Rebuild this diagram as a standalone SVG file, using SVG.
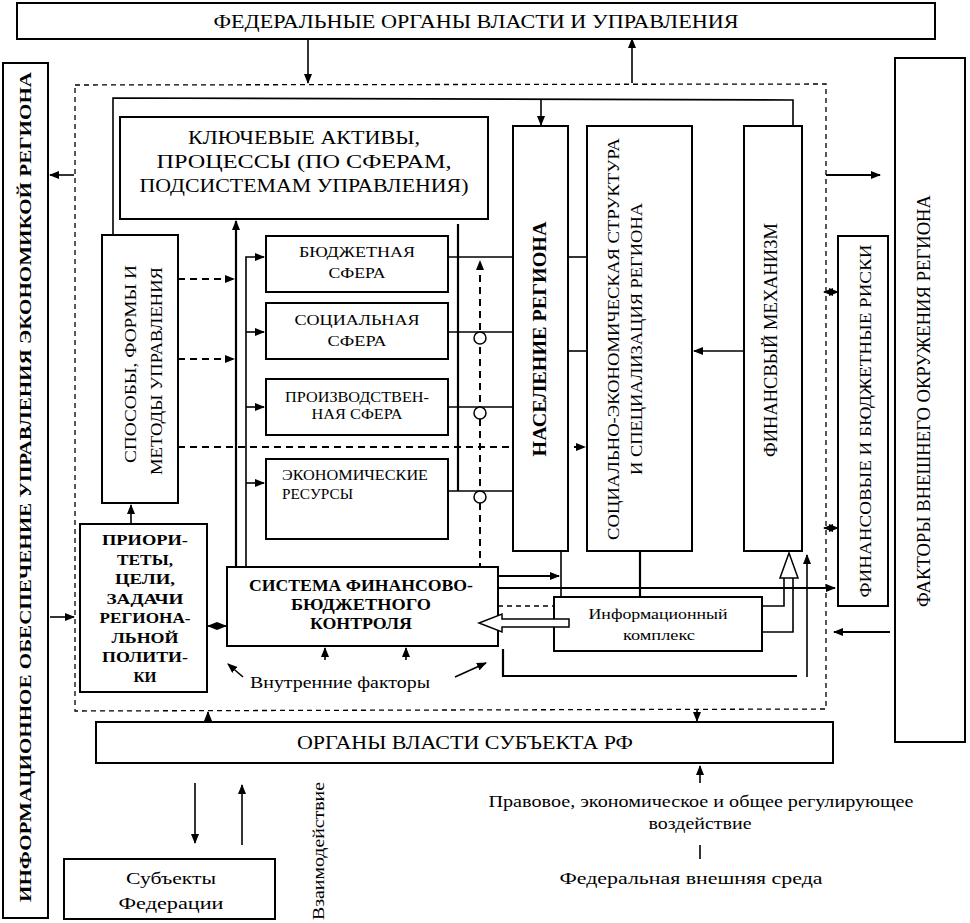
<svg xmlns="http://www.w3.org/2000/svg" width="970" height="923" viewBox="0 0 970 923" font-family="Liberation Serif, DejaVu Serif, serif">
<defs>
<style>
text{font-family:'Liberation Serif','DejaVu Serif',serif;fill:#000}
.b{font-weight:bold}
.bx{fill:#fff;stroke:#000;stroke-width:2}
.ln{fill:none;stroke:#000;stroke-width:1.6}
.th{fill:none;stroke:#000;stroke-width:2.2}
.ds{fill:none;stroke:#000;stroke-width:1.3;stroke-dasharray:5,4}
.dd{fill:none;stroke:#000;stroke-width:2;stroke-dasharray:7,5}
.ha{fill:#fff;stroke:#000;stroke-width:1.5}
</style>
<marker id="ar" markerWidth="10" markerHeight="8" refX="9" refY="4" orient="auto" markerUnits="userSpaceOnUse"><path d="M0,0 L10,4 L0,8 Z" fill="#000"/></marker>
<marker id="as" markerWidth="10" markerHeight="8" refX="1" refY="4" orient="auto" markerUnits="userSpaceOnUse"><path d="M10,0 L0,4 L10,8 Z" fill="#000"/></marker>
</defs>
<rect width="970" height="923" fill="#fff"/>

<g id="connectors">
<path class="ds" d="M75,85 L826,84 L826,709 L75,711 Z"/>
<line class="ln" x1="308" y1="38" x2="308" y2="83" marker-end="url(#ar)"/>
<line class="ln" x1="632" y1="83" x2="632" y2="39" marker-end="url(#ar)"/>
<line class="ln" x1="74" y1="175" x2="50" y2="175" marker-end="url(#ar)"/>
<line class="ln" x1="50" y1="617" x2="74" y2="617" marker-end="url(#ar)"/>
<line class="th" x1="826" y1="175" x2="880" y2="175" marker-end="url(#ar)"/>
<line class="th" x1="890" y1="632" x2="834" y2="632" marker-end="url(#ar)"/>
<line class="ln" x1="824" y1="292" x2="838" y2="292" marker-start="url(#as)" marker-end="url(#ar)"/>
<line class="ln" x1="824" y1="528" x2="838" y2="528" marker-start="url(#as)" marker-end="url(#ar)"/>
<polyline class="ln" points="113,235 113,98 793,100 793,126"/>
<line class="ln" x1="541" y1="99" x2="541" y2="125" marker-end="url(#ar)"/>
<line class="th" x1="236" y1="567" x2="236" y2="221" marker-end="url(#ar)"/>
<polyline class="ln" points="246,567 246,257 264,257" marker-end="url(#ar)"/>
<line class="ln" x1="246" y1="332" x2="264" y2="332" marker-end="url(#ar)"/>
<line class="ln" x1="246" y1="407" x2="264" y2="407" marker-end="url(#ar)"/>
<line class="ln" x1="246" y1="483" x2="264" y2="483" marker-end="url(#ar)"/>
<line class="dd" x1="178" y1="279" x2="234" y2="279" marker-end="url(#ar)"/>
<line class="dd" x1="178" y1="359" x2="234" y2="359" marker-end="url(#ar)"/>
<line class="dd" x1="178" y1="447" x2="585" y2="447" marker-end="url(#ar)"/>
<line class="th" x1="458" y1="224" x2="458" y2="491"/>
<line class="ln" x1="448" y1="257" x2="513" y2="257"/>
<line class="ln" x1="448" y1="332" x2="513" y2="332"/>
<line class="ln" x1="448" y1="407" x2="513" y2="407"/>
<line class="ln" x1="448" y1="491" x2="513" y2="491"/>
<line class="dd" x1="480" y1="606" x2="480" y2="261" marker-end="url(#ar)"/>
<circle cx="480" cy="338" r="6" class="ha"/>
<circle cx="480" cy="413" r="6" class="ha"/>
<circle cx="480" cy="497" r="6" class="ha"/>
<line class="ln" x1="568" y1="257" x2="587" y2="257"/>
<line class="ln" x1="568" y1="351" x2="587" y2="351"/>
<line class="ln" x1="744" y1="351" x2="694" y2="351" marker-end="url(#ar)"/>
<line class="th" x1="498" y1="576" x2="559" y2="576" marker-end="url(#ar)"/>
<line class="th" x1="498" y1="588" x2="835" y2="588" marker-end="url(#ar)"/>
<line class="ln" x1="561" y1="552" x2="561" y2="597"/>
<line class="th" x1="640" y1="552" x2="640" y2="597"/>
<line class="ds" x1="480" y1="606" x2="554" y2="606"/>
<polyline class="th" points="503,649 503,676 797,676"/>
<line class="ln" x1="807" y1="677" x2="807" y2="555" marker-end="url(#ar)"/>
<line class="ln" x1="131" y1="524" x2="131" y2="505" marker-end="url(#ar)"/>
<line class="ln" x1="208" y1="626" x2="226" y2="626" marker-start="url(#as)" marker-end="url(#ar)"/>
<line class="ln" x1="325" y1="660" x2="325" y2="648" marker-end="url(#ar)"/>
<line class="ln" x1="406" y1="660" x2="406" y2="648" marker-end="url(#ar)"/>
<line class="ln" x1="243" y1="677" x2="228" y2="664" marker-end="url(#ar)"/>
<line class="ln" x1="455" y1="677" x2="486" y2="663" marker-end="url(#ar)"/>
<line class="ln" x1="208" y1="722" x2="208" y2="712" marker-end="url(#ar)"/>
<line class="ln" x1="697" y1="709" x2="697" y2="721" marker-end="url(#ar)"/>
<line class="ln" x1="195" y1="783" x2="195" y2="843" marker-end="url(#ar)"/>
<line class="ln" x1="242" y1="845" x2="242" y2="785" marker-end="url(#ar)"/>
<line class="ln" x1="700" y1="783" x2="700" y2="766" marker-end="url(#ar)"/>
<line class="ln" x1="700" y1="845" x2="700" y2="859"/>
</g>

<g id="federal">
<rect class="bx" x="17" y="3" width="918" height="36"/>
<text x="476" y="28" font-size="18" text-anchor="middle" textLength="525" lengthAdjust="spacingAndGlyphs">ФЕДЕРАЛЬНЫЕ ОРГАНЫ ВЛАСТИ И УПРАВЛЕНИЯ</text>
</g>

<g id="info-support">
<rect class="bx" x="3" y="63" width="45" height="855"/>
<text class="b" transform="translate(31,487) rotate(-90)" font-size="17" text-anchor="middle" textLength="830" lengthAdjust="spacingAndGlyphs">ИНФОРМАЦИОННОЕ ОБЕСПЕЧЕНИЕ УПРАВЛЕНИЯ  ЭКОНОМИКОЙ РЕГИОНА</text>
</g>

<g id="external-factors">
<rect class="bx" x="895" y="58" width="70" height="684"/>
<text transform="translate(930,401) rotate(-90)" font-size="18" text-anchor="middle" textLength="412" lengthAdjust="spacingAndGlyphs">ФАКТОРЫ ВНЕШНЕГО ОКРУЖЕНИЯ РЕГИОНА</text>
</g>

<g id="risks">
<rect class="bx" x="838" y="236" width="50" height="370"/>
<text transform="translate(871,421) rotate(-90)" font-size="17" text-anchor="middle" textLength="353" lengthAdjust="spacingAndGlyphs">ФИНАНСОВЫЕ  И  БЮДЖЕТНЫЕ РИСКИ</text>
</g>

<g id="key-assets">
<rect class="bx" x="120" y="117" width="368" height="102"/>
<text x="304" y="144" font-size="19" text-anchor="middle" textLength="232" lengthAdjust="spacingAndGlyphs">КЛЮЧЕВЫЕ АКТИВЫ,</text>
<text x="304" y="168" font-size="19" text-anchor="middle" textLength="295" lengthAdjust="spacingAndGlyphs">ПРОЦЕССЫ (ПО СФЕРАМ,</text>
<text x="304" y="192" font-size="19" text-anchor="middle" textLength="329" lengthAdjust="spacingAndGlyphs">ПОДСИСТЕМАМ УПРАВЛЕНИЯ)</text>
</g>

<g id="methods">
<rect class="bx" x="102" y="235" width="76" height="268"/>
<text transform="translate(136,364) rotate(-90)" font-size="17" text-anchor="middle" textLength="198" lengthAdjust="spacingAndGlyphs">СПОСОБЫ, ФОРМЫ И</text>
<text transform="translate(162,371) rotate(-90)" font-size="17" text-anchor="middle" textLength="208" lengthAdjust="spacingAndGlyphs">МЕТОДЫ УПРАВЛЕНИЯ</text>
</g>

<g id="budget-sphere">
<rect class="bx" x="266" y="236" width="182" height="56"/>
<text x="357" y="257" font-size="15" text-anchor="middle" textLength="116" lengthAdjust="spacingAndGlyphs">БЮДЖЕТНАЯ</text>
<text x="357" y="278" font-size="15" text-anchor="middle" textLength="57" lengthAdjust="spacingAndGlyphs">СФЕРА</text>
</g>

<g id="social-sphere">
<rect class="bx" x="266" y="303" width="182" height="56"/>
<text x="357" y="325" font-size="15" text-anchor="middle" textLength="125" lengthAdjust="spacingAndGlyphs">СОЦИАЛЬНАЯ</text>
<text x="357" y="346" font-size="15" text-anchor="middle" textLength="59" lengthAdjust="spacingAndGlyphs">СФЕРА</text>
</g>

<g id="production-sphere">
<rect class="bx" x="266" y="379" width="182" height="56"/>
<text x="357" y="402" font-size="14" text-anchor="middle" textLength="144" lengthAdjust="spacingAndGlyphs">ПРОИЗВОДСТВЕН-</text>
<text x="357" y="419" font-size="14" text-anchor="middle" textLength="91" lengthAdjust="spacingAndGlyphs">НАЯ СФЕРА</text>
</g>

<g id="economic-resources">
<rect class="bx" x="266" y="459" width="182" height="80"/>
<text x="282" y="480" font-size="14" textLength="146" lengthAdjust="spacingAndGlyphs">ЭКОНОМИЧЕСКИЕ</text>
<text x="282" y="499" font-size="14" textLength="71" lengthAdjust="spacingAndGlyphs">РЕСУРСЫ</text>
</g>

<g id="population">
<rect class="bx" x="513" y="126" width="55" height="425"/>
<text class="b" transform="translate(546,339) rotate(-90)" font-size="18" text-anchor="middle" textLength="235" lengthAdjust="spacingAndGlyphs">НАСЕЛЕНИЕ РЕГИОНА</text>
</g>

<g id="structure">
<rect class="bx" x="587" y="126" width="105" height="425"/>
<text transform="translate(619,339) rotate(-90)" font-size="17" text-anchor="middle" textLength="402" lengthAdjust="spacingAndGlyphs">СОЦИАЛЬНО-ЭКОНОМИЧЕСКАЯ СТРУКТУРА</text>
<text transform="translate(642,339) rotate(-90)" font-size="17" text-anchor="middle" textLength="272" lengthAdjust="spacingAndGlyphs">И СПЕЦИАЛИЗАЦИЯ РЕГИОНА</text>
</g>

<g id="fin-mechanism">
<rect class="bx" x="744" y="126" width="58" height="425"/>
<text transform="translate(777,340) rotate(-90)" font-size="19" text-anchor="middle" textLength="234" lengthAdjust="spacingAndGlyphs">ФИНАНСВЫЙ МЕХАНИЗМ</text>
</g>

<g id="control-system">
<rect class="bx" x="227" y="567" width="271" height="79"/>
<text class="b" x="361" y="591" font-size="16" text-anchor="middle" textLength="224" lengthAdjust="spacingAndGlyphs">СИСТЕМА ФИНАНСОВО-</text>
<text class="b" x="361" y="610" font-size="16" text-anchor="middle" textLength="140" lengthAdjust="spacingAndGlyphs">БЮДЖЕТНОГО</text>
<text class="b" x="361" y="629" font-size="16" text-anchor="middle" textLength="102" lengthAdjust="spacingAndGlyphs">КОНТРОЛЯ</text>
</g>

<g id="priorities">
<rect class="bx" x="80" y="524" width="127" height="168"/>
<text class="b" x="145" y="545" font-size="15" text-anchor="middle" textLength="86" lengthAdjust="spacingAndGlyphs">ПРИОРИ-</text>
<text class="b" x="145" y="564.5" font-size="15" text-anchor="middle" textLength="56" lengthAdjust="spacingAndGlyphs">ТЕТЫ,</text>
<text class="b" x="145" y="584" font-size="15" text-anchor="middle" textLength="60" lengthAdjust="spacingAndGlyphs">ЦЕЛИ,</text>
<text class="b" x="145" y="603.5" font-size="15" text-anchor="middle" textLength="77" lengthAdjust="spacingAndGlyphs">ЗАДАЧИ</text>
<text class="b" x="145" y="623" font-size="15" text-anchor="middle" textLength="91" lengthAdjust="spacingAndGlyphs">РЕГИОНА-</text>
<text class="b" x="145" y="642.5" font-size="15" text-anchor="middle" textLength="67" lengthAdjust="spacingAndGlyphs">ЛЬНОЙ</text>
<text class="b" x="145" y="662" font-size="15" text-anchor="middle" textLength="86" lengthAdjust="spacingAndGlyphs">ПОЛИТИ-</text>
<text class="b" x="145" y="681.5" font-size="15" text-anchor="middle" textLength="23" lengthAdjust="spacingAndGlyphs">КИ</text>
</g>

<g id="info-complex">
<rect class="bx" x="554" y="597" width="208" height="54"/>
<text x="658" y="619" font-size="15" text-anchor="middle" textLength="139" lengthAdjust="spacingAndGlyphs">Информационный</text>
<text x="659" y="640" font-size="15" text-anchor="middle" textLength="72" lengthAdjust="spacingAndGlyphs">комплекс</text>
</g>

<g id="hollow-arrows">
<polygon class="ha" points="569,619 502,619 502,614 479,623 502,632 502,627 569,627"/>
<polyline class="ln" points="762,606 784,606 784,578"/>
<polyline class="ln" points="762,632 793,632 793,578"/>
<polygon class="ha" points="780,578 789,553 798,578"/>
</g>

<g id="internal-factors">
<text x="340" y="688" font-size="16" text-anchor="middle" textLength="180" lengthAdjust="spacingAndGlyphs">Внутренние факторы</text>
</g>

<g id="subject-authorities">
<rect class="bx" x="96" y="722" width="737" height="41"/>
<text x="465" y="749" font-size="18" text-anchor="middle" textLength="336" lengthAdjust="spacingAndGlyphs">ОРГАНЫ ВЛАСТИ СУБЪЕКТА РФ</text>
</g>

<g id="federation-subjects">
<rect class="bx" x="64" y="859" width="211" height="60"/>
<text x="171" y="884" font-size="16" text-anchor="middle" textLength="90" lengthAdjust="spacingAndGlyphs">Субъекты</text>
<text x="171" y="909" font-size="16" text-anchor="middle" textLength="105" lengthAdjust="spacingAndGlyphs">Федерации</text>
</g>

<g id="interaction">
<text transform="translate(324,851) rotate(-90)" font-size="16" text-anchor="middle" textLength="138" lengthAdjust="spacingAndGlyphs">Взаимодействие</text>
</g>

<g id="regulation">
<text x="701" y="807" font-size="16" text-anchor="middle" textLength="425" lengthAdjust="spacingAndGlyphs">Правовое, экономическое и общее регулирующее</text>
<text x="700" y="829" font-size="16" text-anchor="middle" textLength="103" lengthAdjust="spacingAndGlyphs">воздействие</text>
</g>

<g id="federal-environment">
<text x="691" y="884" font-size="16" text-anchor="middle" textLength="263" lengthAdjust="spacingAndGlyphs">Федеральная внешняя среда</text>
</g>
</svg>
